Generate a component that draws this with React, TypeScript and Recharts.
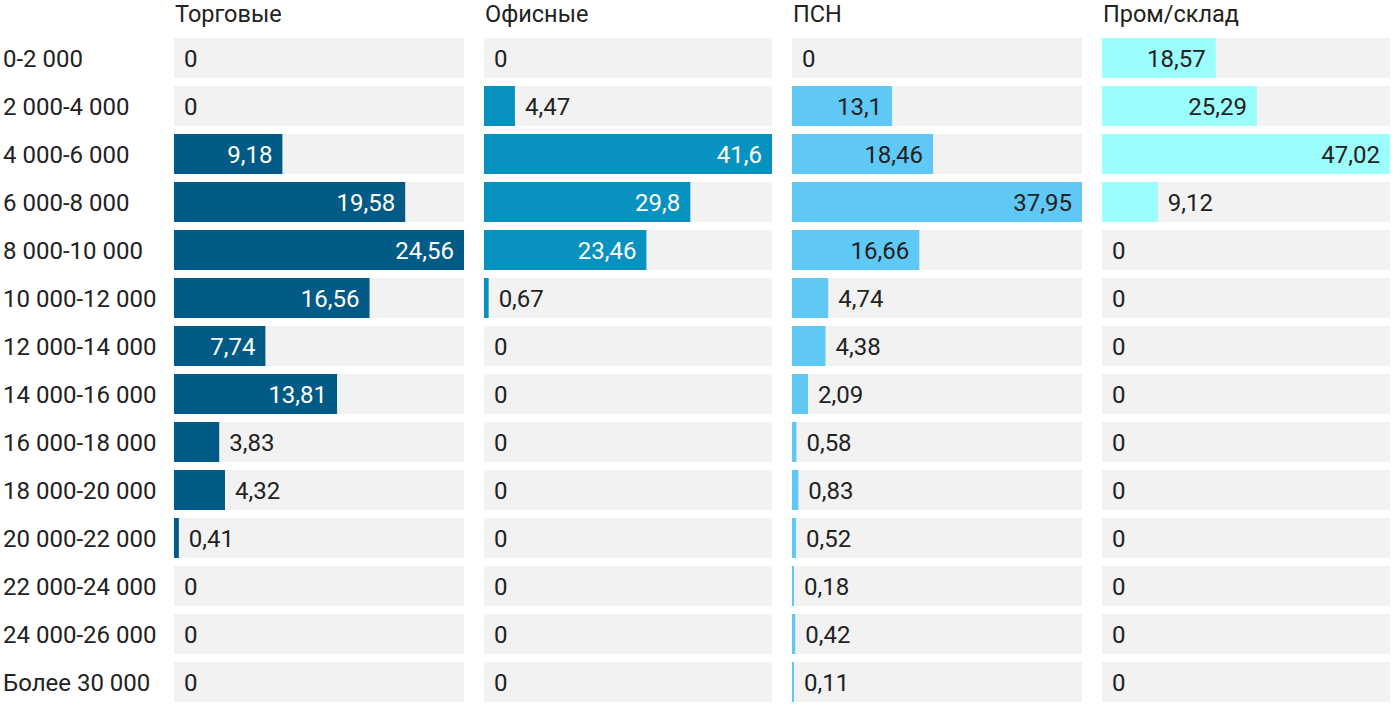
import React from 'react';
import { BarChart, Bar, XAxis, YAxis, LabelList } from 'recharts';

const categories = [
  '0-2 000', '2 000-4 000', '4 000-6 000', '6 000-8 000', '8 000-10 000',
  '10 000-12 000', '12 000-14 000', '14 000-16 000', '16 000-18 000',
  '18 000-20 000', '20 000-22 000', '22 000-24 000', '24 000-26 000', 'Более 30 000',
];
const titles = ['Торговые', 'Офисные', 'ПСН', 'Пром/склад'];
const torgovye = [0, 0, 9.18, 19.58, 24.56, 16.56, 7.74, 13.81, 3.83, 4.32, 0.41, 0, 0, 0];
const ofisnye = [0, 4.47, 41.6, 29.8, 23.46, 0.67, 0, 0, 0, 0, 0, 0, 0, 0];
const psn = [0, 13.1, 18.46, 37.95, 16.66, 4.74, 4.38, 2.09, 0.58, 0.83, 0.52, 0.18, 0.42, 0.11];
const prom = [18.57, 25.29, 47.02, 9.12, 0, 0, 0, 0, 0, 0, 0, 0, 0, 0];

const FONT = 'Roboto, "Noto Sans", sans-serif';
const FS = 24;
const TEXT = '#222222';

const panels = [
  { title: titles[0], values: torgovye, color: '#025b86', inside: '#ffffff', left: 0, width: 464, axis: 174 },
  { title: titles[1], values: ofisnye, color: '#0792bf', inside: '#ffffff', left: 484, width: 288, axis: 0 },
  { title: titles[2], values: psn, color: '#5fc8f5', inside: TEXT, left: 792, width: 290, axis: 0 },
  { title: titles[3], values: prom, color: '#9cfdfd', inside: TEXT, left: 1102, width: 288, axis: 0 },
];

const fmt = (v: number) => String(v).replace('.', ',');

const textWidth = (s: string) => {
  let w = 0;
  for (const ch of s) w += ch === ',' ? 0.25 * FS : 0.5615 * FS;
  return w;
};

const makeLabel = (insideColor: string) => (props: any) => {
  const { x, y, width, height, value } = props;
  const s = fmt(Number(value));
  const tw = textWidth(s);
  const w = Number(value) > 0 ? Number(width) : 0;
  const cy = Number(y) + Number(height) / 2;
  const inside = w >= tw + 20;
  if (inside) {
    return (
      <text x={Number(x) + w - 10} y={cy} dy="0.355em" textAnchor="end"
        fill={insideColor} fontSize={FS} fontFamily={FONT}>{s}</text>
    );
  }
  return (
    <text x={Number(x) + w + 10} y={cy} dy="0.355em" textAnchor="start"
      fill={TEXT} fontSize={FS} fontFamily={FONT}>{s}</text>
  );
};

const CatTick = (props: any) => {
  const { y, payload } = props;
  return (
    <text x={3} y={y} dy="0.355em" textAnchor="start" fill={TEXT} fontSize={FS} fontFamily={FONT}>
      {payload.value}
    </text>
  );
};

export default function App() {
  return (
    <div style={{ position: 'absolute', left: 0, top: 0, width: 1400, height: 718, background: '#fff', fontFamily: FONT }}>
      {panels.map((p, i) => {
        const data = categories.map((c, k) => ({ cat: c, v: p.values[k] }));
        const max = Math.max(...p.values);
        return (
          <div key={i} style={{ position: 'absolute', left: p.left, top: 0, width: p.width, height: 718 }}>
            <div style={{ position: 'absolute', left: p.axis + 1, top: 0, fontSize: FS - 0.5, color: TEXT, lineHeight: '28px', whiteSpace: 'nowrap' }}>
              {p.title}
            </div>
            <BarChart width={p.width} height={718} data={data} layout="vertical"
              margin={{ top: 34, right: 0, bottom: 12, left: 0 }} barCategoryGap={4}>
              <XAxis type="number" domain={[0, max]} hide />
              <YAxis type="category" dataKey="cat" hide={p.axis === 0} width={p.axis || 1}
                axisLine={false} tickLine={false} tick={<CatTick />} interval={0} />
              <Bar dataKey="v" fill={p.color} barSize={40} background={{ fill: '#f2f2f2' }}
                isAnimationActive={false}
                minPointSize={(value: number) => (value > 0 ? 2 : 0.01)}>
                <LabelList dataKey="v" content={makeLabel(p.inside)} />
              </Bar>
            </BarChart>
          </div>
        );
      })}
    </div>
  );
}
